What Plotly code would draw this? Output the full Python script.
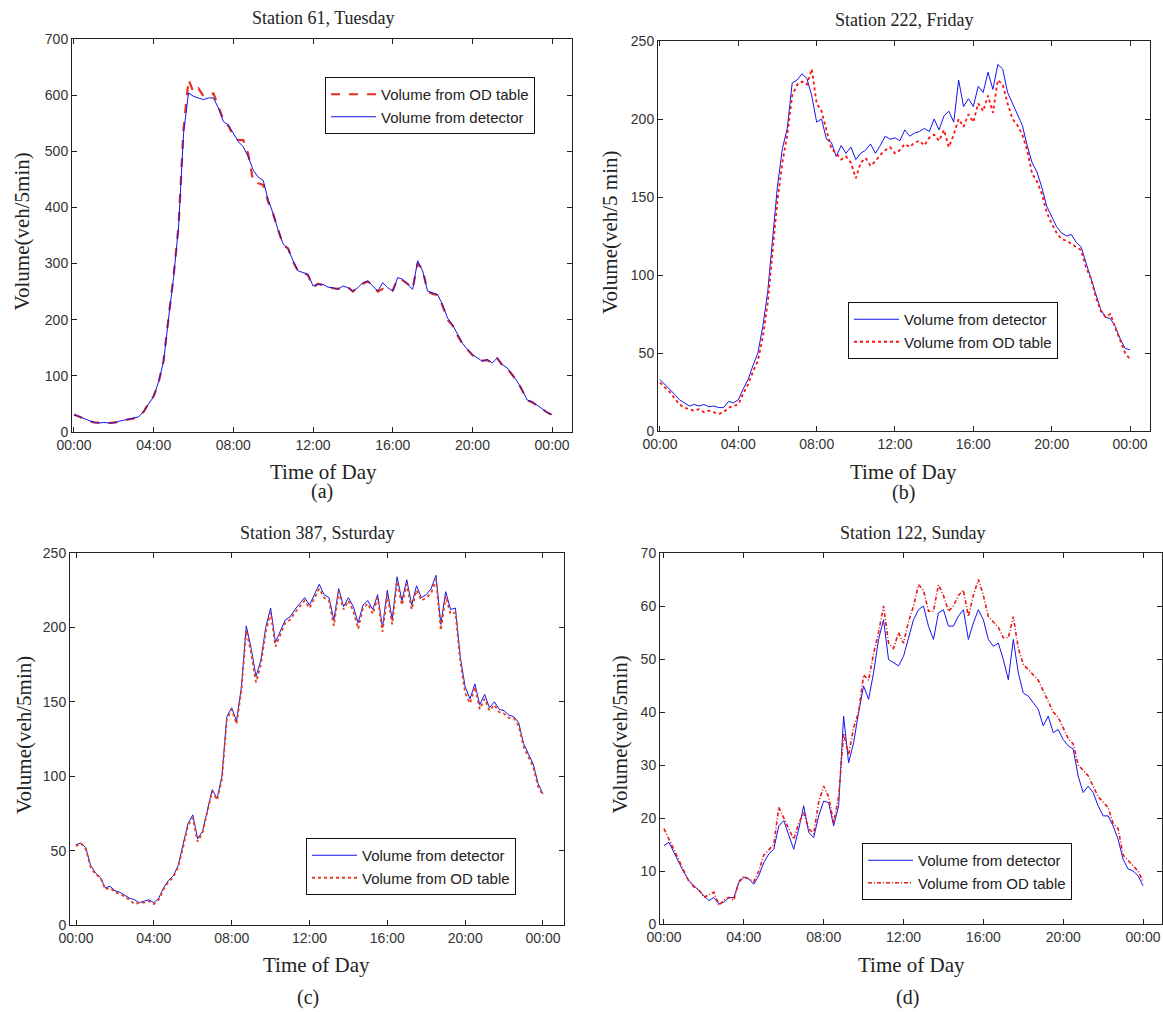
import plotly.graph_objects as go

# ---------------- data (15-min samples, 00:00 .. 24:00) ----------------
tick_vals = [0, 4, 8, 12, 16, 20, 24]
tick_text = ["00:00", "04:00", "08:00", "12:00", "16:00", "20:00", "00:00"]
hours = [i / 4 for i in range(97)]

a_detector = [30, 28, 24, 20, 17, 16, 17, 16,
              16, 19, 21, 22, 24, 27, 37, 51,
              63, 90, 126, 203, 275, 365, 532, 604,
              598, 595, 592, 595, 595, 577, 553, 547,
              532, 517, 508, 490, 466, 454, 448, 413,
              389, 359, 335, 326, 305, 287, 284, 281,
              260, 263, 263, 258, 257, 254, 260, 257,
              251, 257, 266, 269, 260, 251, 266, 257,
              251, 275, 272, 263, 254, 305, 287, 251,
              248, 245, 227, 203, 191, 173, 158, 147,
              138, 132, 126, 129, 123, 132, 120, 114,
              102, 90, 75, 57, 54, 48, 41, 35,
              31]
a_od = [31, 27, 24, 20, 17, 16, 16, 16,
        17, 18, 21, 23, 24, 28, 36, 52,
        64, 88, 128, 205, 278, 368, 540, 628,
        605, 612, 598, 600, 603, 580, 556, 545,
        528, 520, 520, 495, 445, 443, 440, 410,
        388, 360, 333, 327, 303, 286, 285, 279,
        258, 264, 261, 259, 256, 255, 258, 258,
        250, 258, 264, 268, 262, 250, 255, 250,
        252, 273, 270, 264, 255, 300, 290, 250,
        246, 244, 225, 200, 190, 172, 157, 147,
        137, 131, 127, 128, 122, 131, 119, 113,
        101, 91, 74, 56, 53, 47, 40, 35,
        30]

b_detector = [33, 30, 27, 23.5, 20, 18, 16, 17,
              16, 17, 15.5, 16, 15, 15, 19, 18,
              20, 27, 33, 42, 50, 67, 89, 123,
              157, 181, 194, 223, 225, 229, 226, 215,
              198, 200, 187, 185, 176, 183, 178, 182,
              174, 178, 180, 184, 178, 183, 189, 187,
              188, 186, 193, 189, 191, 192, 194, 192,
              200, 193, 202, 205, 198, 225, 208, 213,
              208, 221, 217, 230, 219, 235, 232, 217,
              210, 204, 196, 183, 172, 166, 156, 144,
              138, 131, 127, 125, 126, 121, 118, 108,
              99, 89, 78, 73, 72, 67, 59, 53,
              52]
b_od = [31, 28, 25, 21, 17, 15, 14, 13,
        14, 12, 13, 12, 11, 12, 15, 16,
        17, 24, 30, 38, 45, 60, 82, 115,
        148, 172, 190, 215, 222, 224, 222, 232,
        210, 205, 192, 181, 178, 174, 176, 172,
        162, 172, 175, 170, 173, 177, 180, 182,
        178, 180, 184, 182, 185, 186, 183, 188,
        190, 186, 193, 182, 190, 200, 195, 203,
        198, 210, 205, 215, 204, 225, 222, 210,
        200, 196, 190, 180, 165, 160, 152, 140,
        133, 127, 123, 122, 120, 118, 116, 105,
        98, 86, 77, 73, 75, 66, 58, 50,
        46]

c_detector = [54, 55, 52, 40, 35, 32, 25, 26,
              23, 22, 20, 18, 17, 15, 16, 17,
              15, 18, 25, 30, 33, 40, 54, 68,
              74, 58, 63, 77, 91, 85, 100, 140,
              146, 137, 160, 201, 186, 167, 178, 200,
              213, 190, 197, 205, 207, 212, 216, 220,
              215, 222, 229, 222, 220, 205, 226, 214,
              220, 214, 203, 215, 218, 212, 222, 200,
              225, 205, 234, 218, 232, 215, 228, 220,
              222, 226, 235, 202, 224, 212, 213, 180,
              160, 152, 162, 148, 155, 146, 150, 145,
              144, 141, 140, 136, 122, 115, 108, 95,
              88]
c_od = [53, 55, 51, 39, 34, 32, 24, 25,
        22, 21, 19, 17, 14, 15, 15, 16,
        14, 17, 24, 29, 32, 39, 52, 67,
        72, 56, 62, 76, 90, 84, 98, 138,
        145, 135, 158, 198, 183, 163, 175, 197,
        210, 187, 195, 203, 205, 210, 214, 218,
        213, 220, 226, 220, 218, 201, 224, 212,
        218, 211, 199, 213, 216, 209, 220, 197,
        222, 202, 231, 215, 229, 212, 225, 218,
        220, 223, 232, 198, 221, 209, 210, 177,
        156, 149, 160, 145, 152, 144, 148, 143,
        142, 139, 139, 134, 120, 113, 106, 93,
        87]

d_detector = [14.8, 15.4, 13.5, 11.6, 9.7, 8.2, 7.2, 6.3,
              5.3, 4.4, 5.0, 3.8, 4.1, 5.0, 5.0, 7.8,
              8.8, 8.5, 7.5, 9.1, 11.6, 13.2, 14.1, 18.5,
              19.5, 16.6, 14.1, 17.9, 22.3, 17.3, 16.3, 20.4,
              23.2, 22.9, 18.5, 22.3, 39.2, 30.4, 34.2, 39.9,
              44.9, 42.4, 47.4, 53.7, 57.4, 49.9, 49.3, 48.7,
              50.5, 53.7, 57.4, 59.3, 60.0, 56.2, 53.7, 58.7,
              59.3, 56.2, 56.2, 58.1, 59.3, 53.7, 56.8, 59.3,
              57.4, 53.7, 52.4, 53.0, 49.9, 46.1, 53.7, 47.4,
              43.6, 43.0, 41.7, 40.5, 37.4, 39.2, 36.1, 36.7,
              34.8, 33.6, 33.0, 27.9, 24.8, 26.0, 24.8, 22.3,
              20.4, 20.4, 18.5, 16.0, 12.2, 10.4, 10.0, 9.1,
              7.2]
d_od = [18, 16, 14, 12, 10, 8, 7, 6.5,
        5, 5.5, 6, 3.5, 4.5, 5, 4.5, 8,
        9, 8.5, 8, 10, 13, 14, 15, 22,
        20, 18, 16, 19, 21, 18, 17, 23,
        26, 24, 19, 24, 36, 32, 37, 40,
        47, 46, 51, 55, 60, 53, 52, 55,
        53, 57, 60, 64, 63, 59, 59, 64,
        62, 59, 60, 62, 63, 58, 62, 65,
        62, 58, 57, 56, 54, 54, 58, 52,
        49, 48, 47, 46, 44, 42, 40, 39,
        37, 35, 34, 30, 29, 28, 26, 24,
        23, 22, 19, 18, 13, 12, 11, 10,
        8]

titles = ["Station 61, Tuesday", "Station 222, Friday",
          "Station 387, Ssturday", "Station 122, Sunday"]
captions = ["(a)", "(b)", "(c)", "(d)"]
ylabels = ["Volume(veh/5min)", "Volume(veh/5 min)",
           "Volume(veh/5min)", "Volume(veh/5min)"]
y_ranges = [(0, 700, 100), (0, 250, 50), (0, 250, 50), (0, 70, 10)]

# ---------------- layout geometry (pixels of 1163x1012 page) ----------------
W, H = 1163, 1012
SERIF = "Liberation Serif, Times New Roman, serif"
SANS = "Liberation Sans, Arial, sans-serif"
BLUE = "#1414ee"

panels = [
    dict(box=(72, 39, 572, 432), xr=(-0.10, 25.0), leg=(325, 77), title=(323, 18),
         xl=(323, 472), cap=(322, 491), yl=22),
    dict(box=(658, 41, 1150, 431), xr=(-0.10, 25.02), leg=(848, 302), title=(904, 20),
         xl=(903, 472), cap=(903, 493), yl=610),
    dict(box=(70, 553, 564, 925), xr=(-0.31, 25.08), leg=(306, 838), title=(317, 533),
         xl=(316, 965), cap=(308, 997), yl=24),
    dict(box=(660, 553, 1162, 924), xr=(-0.20, 24.95), leg=(862, 843), title=(913, 533),
         xl=(911, 965), cap=(907, 997), yl=619),
]

series = [
    [("Volume from OD table", a_od, dict(color="#e4321c", width=2.2, dash="dash")),
     ("Volume from detector", a_detector, dict(color=BLUE, width=1))],
    [("Volume from detector", b_detector, dict(color=BLUE, width=1)),
     ("Volume from OD table", b_od, dict(color="#ff1010", width=1.8, dash="dot"))],
    [("Volume from detector", c_detector, dict(color=BLUE, width=1)),
     ("Volume from OD table", c_od, dict(color="#e8401c", width=1.8, dash="dot"))],
    [("Volume from detector", d_detector, dict(color=BLUE, width=1)),
     ("Volume from OD table", d_od, dict(color="#e81818", width=1.6, dash="4px,2px,1px,2px"))],
]

fig = go.Figure()
annotations = []
layout = dict(
    width=W, height=H, margin=dict(l=0, r=0, t=0, b=0, autoexpand=False),
    paper_bgcolor="white", plot_bgcolor="white", showlegend=True,
)


def px_x(v):
    return v / W


def px_y(v):
    return 1 - v / H


for i, p in enumerate(panels):
    n = "" if i == 0 else str(i + 1)
    xa, ya = "x" + n, "y" + n
    leg = "legend" + n
    L, T, R, B = p["box"]
    for name, vals, line in series[i]:
        fig.add_trace(go.Scatter(x=hours, y=vals, mode="lines", name=name, line=line,
                                 xaxis=xa, yaxis=ya, legend=leg))
    axis_common = dict(showline=True, linecolor="#222", linewidth=1, mirror="ticks",
                       ticks="inside", ticklen=5, tickcolor="#222", showgrid=False,
                       zeroline=False, automargin=False,
                       tickfont=dict(family=SANS, size=14, color="#333"))
    layout["xaxis" + n] = dict(domain=[px_x(L), px_x(R)], range=list(p["xr"]),
                               tickvals=tick_vals, ticktext=tick_text, anchor=ya, **axis_common)
    y0, y1, dt = y_ranges[i]
    layout["yaxis" + n] = dict(domain=[px_y(B), px_y(T)], range=[y0, y1], dtick=dt,
                               anchor=xa, **axis_common)
    layout[leg] = dict(x=px_x(p["leg"][0]), y=px_y(p["leg"][1]), xanchor="left", yanchor="top",
                       bgcolor="white", bordercolor="#111", borderwidth=1,
                       font=dict(family=SANS, size=15, color="#222"), itemwidth=45,
                       tracegroupgap=0)
    annotations.append(dict(text=titles[i], x=px_x(p["title"][0]), y=px_y(p["title"][1]),
                            xref="paper", yref="paper", showarrow=False, xanchor="center",
                            yanchor="middle", font=dict(family=SERIF, size=18, color="#222")))
    annotations.append(dict(text="Time of Day", x=px_x(p["xl"][0]), y=px_y(p["xl"][1]),
                            xref="paper", yref="paper", showarrow=False, xanchor="center",
                            yanchor="middle", font=dict(family=SERIF, size=21, color="#222")))
    annotations.append(dict(text=captions[i], x=px_x(p["cap"][0]), y=px_y(p["cap"][1]),
                            xref="paper", yref="paper", showarrow=False, xanchor="center",
                            yanchor="middle", font=dict(family=SERIF, size=20, color="#222")))
    annotations.append(dict(text=ylabels[i], x=px_x(p["yl"]), y=px_y((T + B) / 2 - 4),
                            xref="paper", yref="paper", showarrow=False, xanchor="center",
                            yanchor="middle", textangle=-90,
                            font=dict(family=SERIF, size=21, color="#222")))

layout["annotations"] = annotations
fig.update_layout(**layout)
# place the figure at the page origin so that pixel positions match the reference
fig.write_html("out.html", config={"displayModeBar": False},
               post_script="document.body.style.margin='0px';document.body.style.overflow='hidden';")
